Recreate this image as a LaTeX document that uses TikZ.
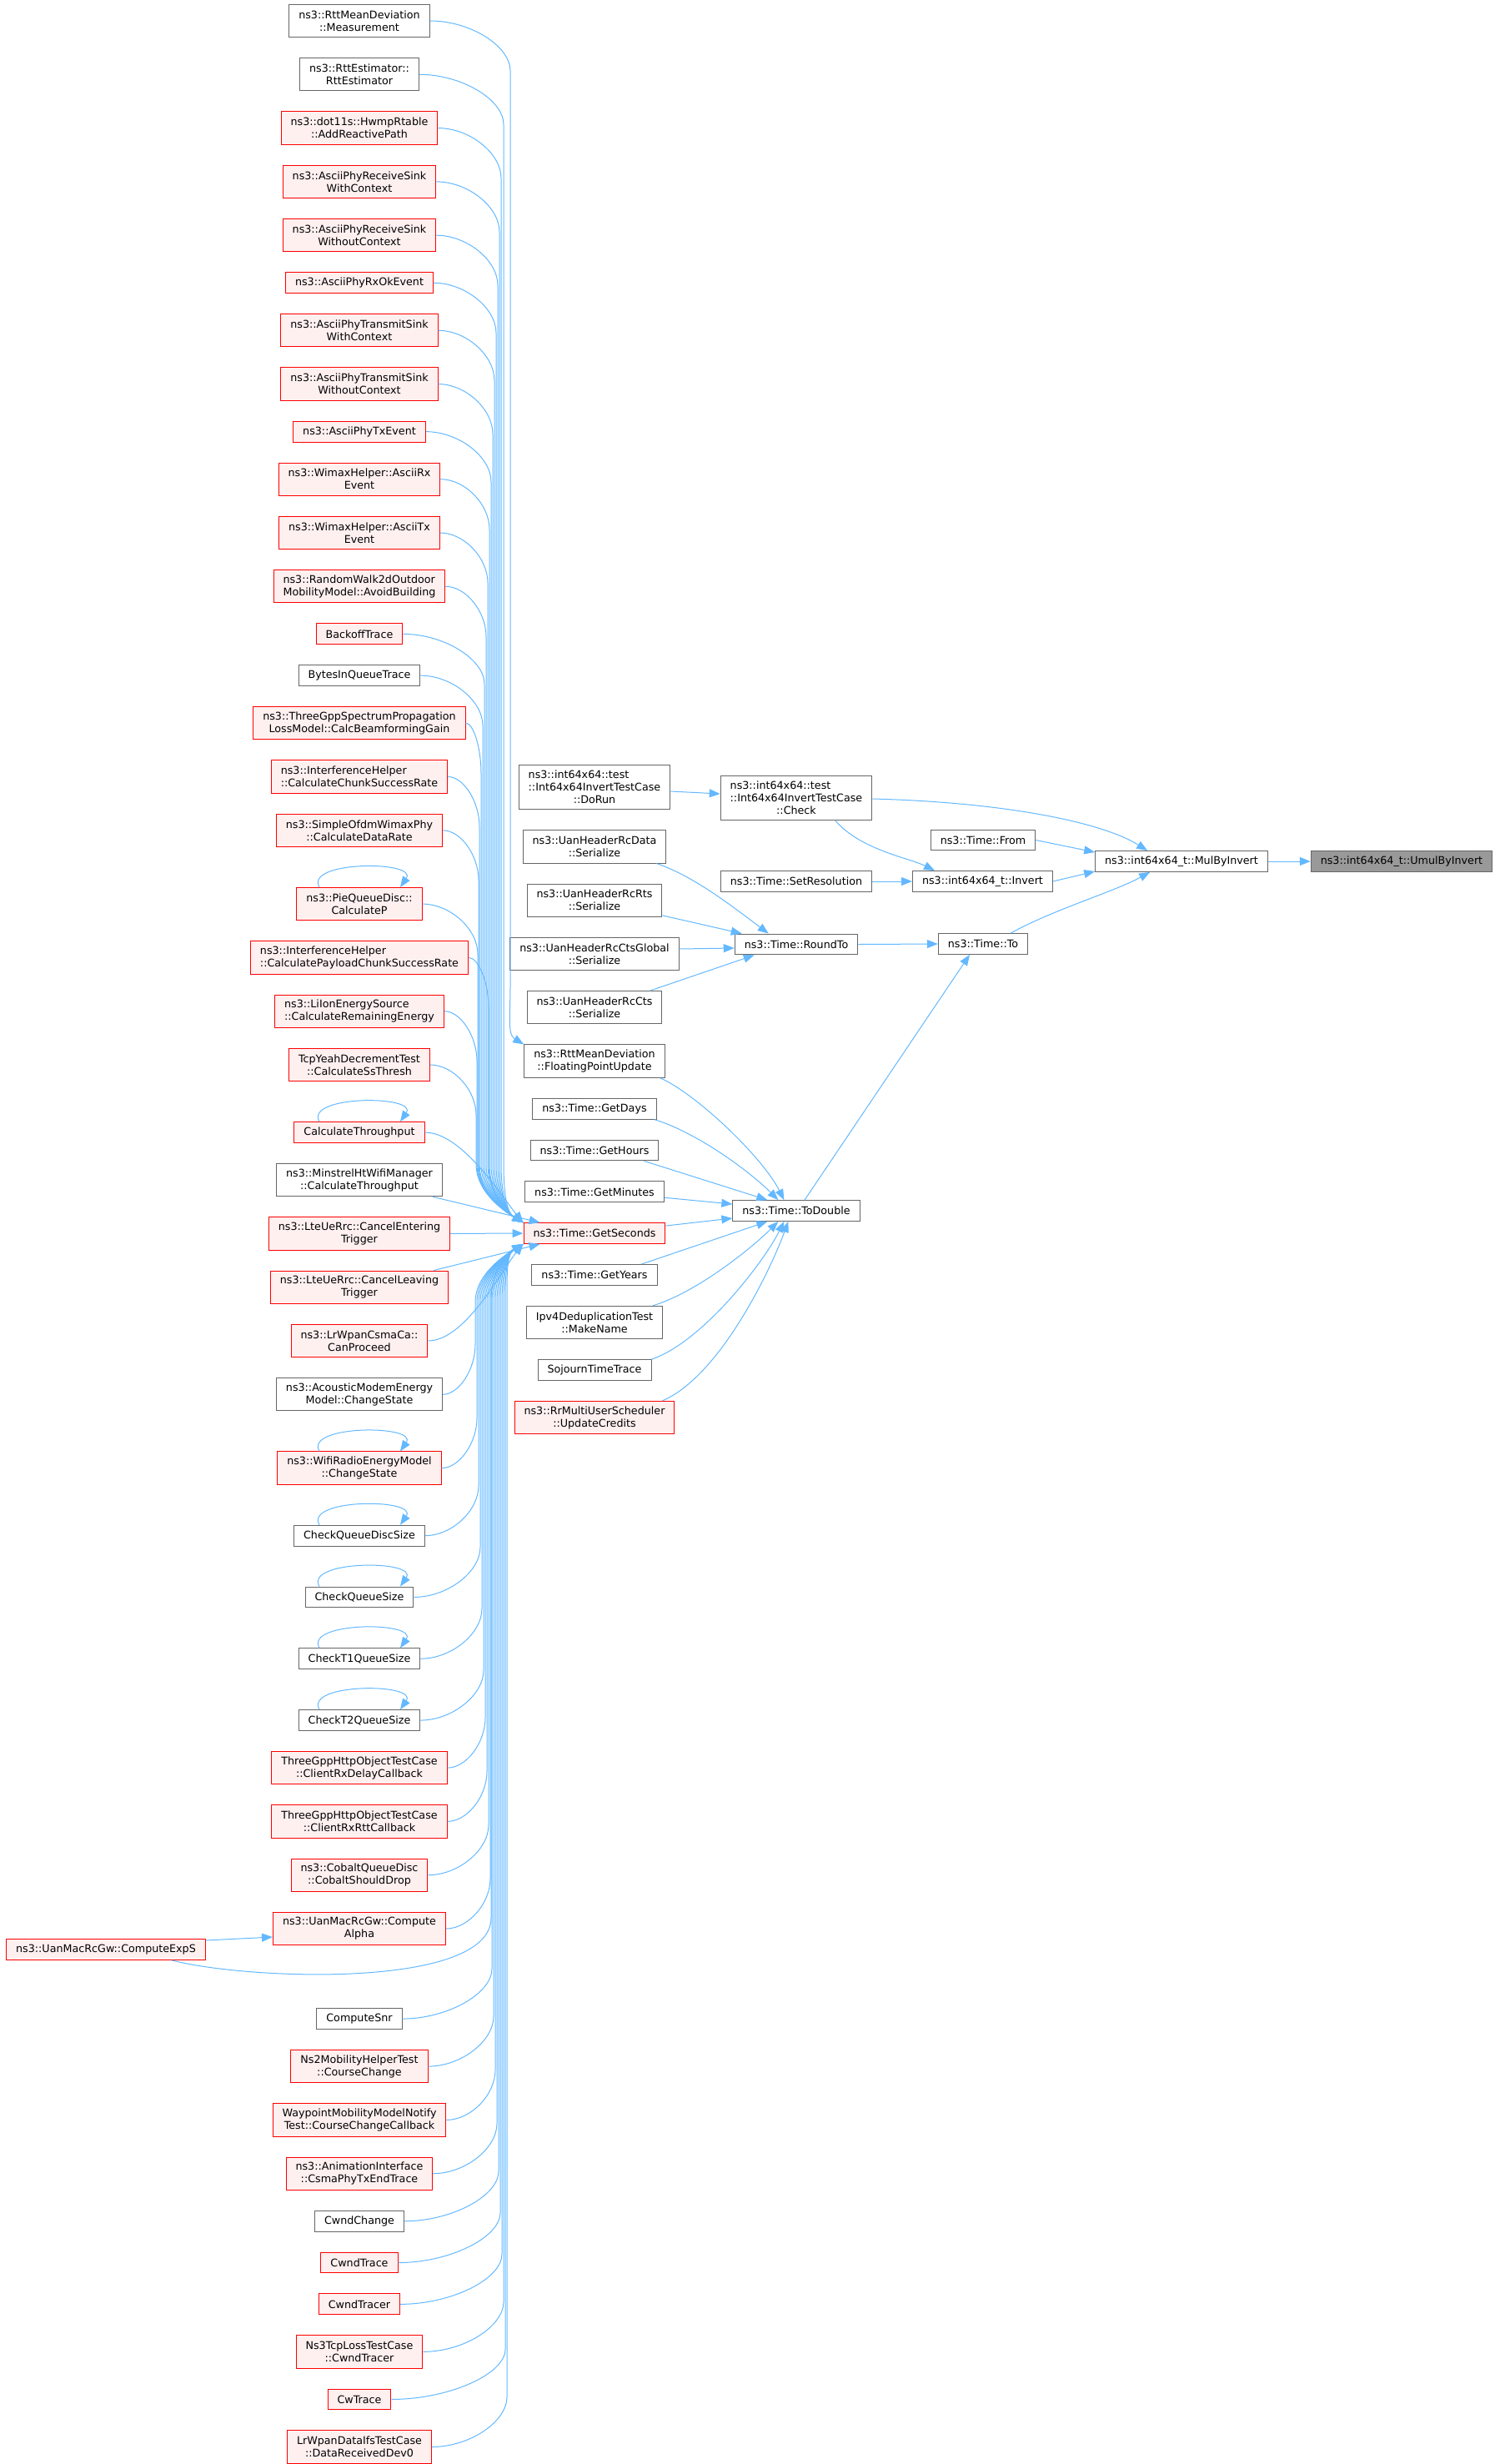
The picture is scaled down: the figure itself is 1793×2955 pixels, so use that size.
\documentclass[tikz,border=0pt]{standalone}
\usepackage{fontspec}
\setmainfont{DejaVu Sans}
\usetikzlibrary{arrows.meta, positioning, calc}
\definecolor{edgeblue}{HTML}{63B8FF}
\definecolor{nodegray}{HTML}{666666}
\definecolor{rootfill}{HTML}{999999}
\definecolor{truncfill}{HTML}{FFF0F0}

\begin{document}
\begin{tikzpicture}[x=1pt,y=-1pt,>={Triangle[length=13pt,width=10pt]},node distance=24pt,
  font=\fontsize{12.7}{15}\selectfont,
  gray node/.style={rectangle,draw=nodegray,fill=white,line width=1pt,inner xsep=11.5pt,inner ysep=2pt,align=center},
  red node/.style={gray node,draw=red,fill=truncfill},
  root node/.style={gray node,fill=rootfill},
  one line/.style={minimum height=24.8pt},
  two lines/.style={minimum height=39.3pt},
  three lines/.style={minimum height=53.5pt},
  link/.style={draw=edgeblue,line width=1pt,->},
  every edge/.append style={link},
  down call/.style={to path={let \p1=(\tikztostart), \p2=(\tikztotarget) in
    (\p1) .. controls ({(\x1+#1pt)/2},\y1) and (#1pt,\y1-30pt) .. (#1pt,\y1-60pt)
    -- (#1pt,\y2+70pt) .. controls (#1pt,\y2+35pt) and (\x2-20pt,\y2+12pt) .. (\p2)}},
  up call/.style={to path={let \p1=(\tikztostart), \p2=(\tikztotarget) in
    (\p1) .. controls ({(\x1+#1pt)/2},\y1) and (#1pt,\y1+30pt) .. (#1pt,\y1+60pt)
    -- (#1pt,\y2-70pt) .. controls (#1pt,\y2-35pt) and (\x2-20pt,\y2-12pt) .. (\p2)}},
  recurse/.style={to path={($(\tikztostart)+(-48,0)$) .. controls +(-18,-32) and +(22,-32) .. ($(\tikztostart)+(49,0)$)}}]
  \useasboundingbox (0,0) rectangle (1793,2955);

  \node[root node,one line] (1) at (1681,1033) {ns3::int64x64\_t::UmulByInvert};
  \node[gray node,one line] (2) at (1417,1033) {ns3::int64x64\_t::MulByInvert};
  \node[gray node,three lines,align=left] (3) at (955,957) {ns3::int64x64::test\\::Int64x64InvertTestCase\\\hspace*{\fill}::Check\hspace*{\fill}};
  \node[gray node,one line] (4) at (1179,1007.5) {ns3::Time::From};
  \node[gray node,one line] (5) at (1178.5,1057) {ns3::int64x64\_t::Invert};
  \node[gray node,one line] (6) at (1179,1132) {ns3::Time::To};
  \node[gray node,three lines,align=left] (7) at (713,944) {ns3::int64x64::test\\::Int64x64InvertTestCase\\\hspace*{\fill}::DoRun\hspace*{\fill}};
  \node[gray node,one line] (8) at (955,1057) {ns3::Time::SetResolution};
  \node[gray node,one line] (9) at (955,1132.5) {ns3::Time::RoundTo};
  \node[gray node,one line] (10) at (955,1452) {ns3::Time::ToDouble};

  %middle column
  \node[gray node,two lines] (11) [below=of 7] {ns3::UanHeaderRcData\\::Serialize};
  \node[gray node,two lines] (12) [below=of 11] {ns3::UanHeaderRcRts\\::Serialize};
  \node[gray node,two lines] (13) [below=of 12] {ns3::UanHeaderRcCtsGlobal\\::Serialize};
  \node[gray node,two lines] (14) [below=of 13] {ns3::UanHeaderRcCts\\::Serialize};
  \node[gray node,two lines] (15) [below=of 14] {ns3::RttMeanDeviation\\::FloatingPointUpdate};
  \node[gray node,one line] (16) [below=of 15] {ns3::Time::GetDays};
  \node[gray node,one line] (17) [below=of 16] {ns3::Time::GetHours};
  \node[gray node,one line] (18) [below=of 17] {ns3::Time::GetMinutes};
  \node[red node,one line] (19) [below=of 18] {ns3::Time::GetSeconds};
  \node[gray node,one line] (20) [below=of 19] {ns3::Time::GetYears};
  \node[gray node,two lines] (21) [below=of 20] {Ipv4DeduplicationTest\\::MakeName};
  \node[gray node,one line] (22) [below=of 21] {SojournTimeTrace};
  \node[red node,two lines] (23) [below=of 22] {ns3::RrMultiUserScheduler\\::UpdateCredits};

  %left column
  \node[gray node,two lines] (24) at (431,25) {ns3::RttMeanDeviation\\::Measurement};
  \node[gray node,two lines] (25) [below=of 24] {ns3::RttEstimator::\\RttEstimator};
  \node[red node,two lines] (26) [below=of 25] {ns3::dot11s::HwmpRtable\\::AddReactivePath};
  \node[red node,two lines] (27) [below=of 26] {ns3::AsciiPhyReceiveSink\\WithContext};
  \node[red node,two lines] (28) [below=of 27] {ns3::AsciiPhyReceiveSink\\WithoutContext};
  \node[red node,one line] (29) [below=of 28] {ns3::AsciiPhyRxOkEvent};
  \node[red node,two lines] (30) [below=of 29] {ns3::AsciiPhyTransmitSink\\WithContext};
  \node[red node,two lines] (31) [below=of 30] {ns3::AsciiPhyTransmitSink\\WithoutContext};
  \node[red node,one line] (32) [below=of 31] {ns3::AsciiPhyTxEvent};
  \node[red node,two lines] (33) [below=of 32] {ns3::WimaxHelper::AsciiRx\\Event};
  \node[red node,two lines] (34) [below=of 33] {ns3::WimaxHelper::AsciiTx\\Event};
  \node[red node,two lines,align=left] (35) [below=of 34] {ns3::RandomWalk2dOutdoor\\MobilityModel::AvoidBuilding};
  \node[red node,one line] (36) [below=of 35] {BackoffTrace};
  \node[gray node,one line] (37) [below=of 36] {BytesInQueueTrace};
  \node[red node,two lines] (38) [below=of 37] {ns3::ThreeGppSpectrumPropagation\\LossModel::CalcBeamformingGain};
  \node[red node,two lines,align=left] (39) [below=of 38] {ns3::InterferenceHelper\\::CalculateChunkSuccessRate};
  \node[red node,two lines] (40) [below=of 39] {ns3::SimpleOfdmWimaxPhy\\::CalculateDataRate};
  \node[red node,two lines] (41) [below=48pt of 40] {ns3::PieQueueDisc::\\CalculateP};
  \node[red node,two lines,align=left] (42) [below=of 41] {ns3::InterferenceHelper\\::CalculatePayloadChunkSuccessRate};
  \node[red node,two lines,align=left] (43) [below=of 42] {ns3::LiIonEnergySource\\::CalculateRemainingEnergy};
  \node[red node,two lines] (44) [below=of 43] {TcpYeahDecrementTest\\::CalculateSsThresh};
  \node[red node,one line] (45) [below=48pt of 44] {CalculateThroughput};
  \node[gray node,two lines] (46) [below=of 45] {ns3::MinstrelHtWifiManager\\::CalculateThroughput};
  \node[red node,two lines] (47) [below=of 46] {ns3::LteUeRrc::CancelEntering\\Trigger};
  \node[red node,two lines] (48) [below=of 47] {ns3::LteUeRrc::CancelLeaving\\Trigger};
  \node[red node,two lines] (49) [below=of 48] {ns3::LrWpanCsmaCa::\\CanProceed};
  \node[gray node,two lines] (50) [below=of 49] {ns3::AcousticModemEnergy\\Model::ChangeState};
  \node[red node,two lines] (51) [below=48pt of 50] {ns3::WifiRadioEnergyModel\\::ChangeState};
  \node[gray node,one line] (52) [below=48pt of 51] {CheckQueueDiscSize};
  \node[gray node,one line] (53) [below=48pt of 52] {CheckQueueSize};
  \node[gray node,one line] (54) [below=48pt of 53] {CheckT1QueueSize};
  \node[gray node,one line] (55) [below=48pt of 54] {CheckT2QueueSize};
  \node[red node,two lines] (56) [below=of 55] {ThreeGppHttpObjectTestCase\\::ClientRxDelayCallback};
  \node[red node,two lines] (57) [below=of 56] {ThreeGppHttpObjectTestCase\\::ClientRxRttCallback};
  \node[red node,two lines] (58) [below=of 57] {ns3::CobaltQueueDisc\\::CobaltShouldDrop};
  \node[red node,two lines] (59) [below=of 58] {ns3::UanMacRcGw::Compute\\Alpha};
  \node[red node,one line] (60) at (127,2338) {ns3::UanMacRcGw::ComputeExpS};
  \node[gray node,one line] (61) [below=75pt of 59] {ComputeSnr};
  \node[red node,two lines] (62) [below=of 61] {Ns2MobilityHelperTest\\::CourseChange};
  \node[red node,two lines] (63) [below=of 62] {WaypointMobilityModelNotify\\Test::CourseChangeCallback};
  \node[red node,two lines] (64) [below=of 63] {ns3::AnimationInterface\\::CsmaPhyTxEndTrace};
  \node[gray node,one line] (65) [below=of 64] {CwndChange};
  \node[red node,one line] (66) [below=of 65] {CwndTrace};
  \node[red node,one line] (67) [below=of 66] {CwndTracer};
  \node[red node,two lines] (68) [below=of 67] {Ns3TcpLossTestCase\\::CwndTracer};
  \node[red node,one line] (69) [below=of 68] {CwTrace};
  \node[red node,two lines] (70) [below=of 69] {LrWpanDataIfsTestCase\\::DataReceivedDev0};

  %right part
  \path (2.east) edge (1.west)
    (4.east) edge ([yshift=11pt]2.west)
    (5.east) edge ([yshift=-12pt]2.west)
    (8.east) edge (5.west)
    (9.east) edge (6.west)
    ([yshift=-5pt]7.east) edge ([yshift=5pt]3.west)
    ([yshift=2pt]12.south east) edge ([xshift=9pt]9.north west)
    ([yshift=6pt]13.east) edge ([yshift=-4.5pt]9.west)
    ([xshift=-15pt]14.north east) edge ([xshift=24pt]9.south west)
    ([xshift=10pt]10.north) edge ([xshift=-16pt]6.south)
    ([xshift=-18pt]17.south east) edge ([xshift=42pt]10.north west)
    ([yshift=-7pt]18.east) edge ([yshift=8pt]10.west)
    ([yshift=9pt]19.east) edge ([yshift=-9pt]10.west)
    ([xshift=-19pt]20.north east) edge ([xshift=42pt]10.south west);
  \draw[link] ([yshift=-1pt]3.east) .. controls (1200,962) and (1320,985) .. ([xshift=63pt]2.north west);
  \draw[link] ([xshift=47pt]3.south) .. controls +(30,35) and +(-30,-15) .. ([xshift=27pt]5.north west);
  \draw[link] ([xshift=-21pt]6.north east) .. controls (1265,1090) and (1335,1070) .. ([xshift=66pt]2.south west);
  \draw[link] ([xshift=-12pt]11.south east) .. controls +(45,15) and +(-40,-30) .. ([xshift=41pt]9.north west);
  \draw[link] ([xshift=-6pt]15.south east) .. controls +(45,20) and +(-25,-50) .. ([xshift=62pt]10.north west);
  \draw[link] ([xshift=-3pt]16.south east) .. controls +(50,15) and +(-35,-35) .. ([xshift=55pt]10.north west);
  \draw[link] ([xshift=-12pt]21.north east) .. controls +(50,-15) and +(-35,35) .. ([xshift=55pt]10.south west);
  \draw[link] (22.north east) .. controls +(60,-20) and +(-25,50) .. ([xshift=62pt]10.south west);
  \draw[link] ([xshift=-15pt]23.north east) .. controls +(70,-30) and +(-20,55) .. ([xshift=67pt]10.south west);

  %callers of GetSeconds
  \path (24.east) edge[down call=612] (15.north west)
    (25.east) edge[down call=604] (19.north west)
    (26.east) edge[down call=601] (19.north west)
    (27.east) edge[down call=599] (19.north west)
    (28.east) edge[down call=597] (19.north west)
    (29.east) edge[down call=595] (19.north west)
    (30.east) edge[down call=593] (19.north west)
    (31.east) edge[down call=591] (19.north west)
    (32.east) edge[down call=589] (19.north west)
    (33.east) edge[down call=587] (19.north west)
    (34.east) edge[down call=585] (19.north west)
    (35.east) edge[down call=583] (19.north west)
    (36.east) edge[down call=581] (19.north west)
    (37.east) edge[down call=579] (19.north west)
    (38.east) edge[down call=577] (19.north west)
    (39.east) edge[down call=575] (19.north west)
    (40.east) edge[down call=574] (19.north west)
    (41.east) edge[down call=573] (19.north west)
    (42.east) edge[down call=586] (19.north west)
    (43.east) edge[down call=572] (19.north west)
    (44.east) edge[down call=571] (19.north west)
    ([xshift=-12pt]46.south east) edge ([xshift=20pt]19.north west)
    (47.east) edge (19.west)
    ([xshift=-18pt]48.north east) edge ([xshift=20pt]19.south west)
    (50.east) edge[up call=570] (19.south west)
    (51.east) edge[up call=572] (19.south west)
    (52.east) edge[up call=574] (19.south west)
    (53.east) edge[up call=576] (19.south west)
    (54.east) edge[up call=578] (19.south west)
    (55.east) edge[up call=580] (19.south west)
    (56.east) edge[up call=582] (19.south west)
    (57.east) edge[up call=584] (19.south west)
    (58.east) edge[up call=586] (19.south west)
    (59.east) edge[up call=588] (19.south west)
    (61.east) edge[up call=590] (19.south west)
    (62.east) edge[up call=592] (19.south west)
    (63.east) edge[up call=594] (19.south west)
    (64.east) edge[up call=596] (19.south west)
    (65.east) edge[up call=598] (19.south west)
    (66.east) edge[up call=600] (19.south west)
    (67.east) edge[up call=602] (19.south west)
    (68.east) edge[up call=604] (19.south west)
    (69.east) edge[up call=606] (19.south west)
    (70.east) edge[up call=608] (19.south west)
    ([yshift=11pt]60.east) edge ([yshift=-10pt]59.west);
  \draw[link] (45.east) .. controls +(45,0) and +(-25,-30) .. (19.north west);
  \draw[link] (49.east) .. controls +(45,0) and +(-25,30) .. (19.south west);
  \draw[link] ([xshift=79pt]60.south) .. controls (300,2375) and (589,2385) .. (589,2300)
    -- (589,1560) .. controls (589,1525) and (606,1503) .. (19.south west);

  %self calls
  \path (41.north) edge[recurse] (41)
    (45.north) edge[recurse] (45)
    (51.north) edge[recurse] (51)
    (52.north) edge[recurse] (52)
    (53.north) edge[recurse] (53)
    (54.north) edge[recurse] (54)
    (55.north) edge[recurse] (55);
\end{tikzpicture}
\end{document}
